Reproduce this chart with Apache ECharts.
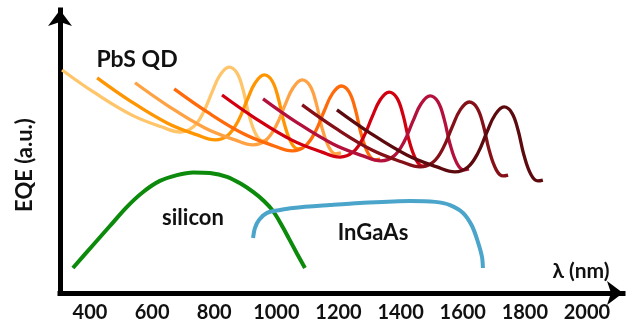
<!DOCTYPE html>
<html>
<head>
<meta charset="utf-8">
<script src="https://cdn.jsdelivr.net/npm/echarts@6/dist/echarts.min.js"></script>
<style>html,body{margin:0;padding:0;background:#fff;}#c{width:633px;height:331px;}</style>
</head>
<body>
<div id="c"></div>
<script>
// Tick labels (nm)
const tickLabels = [400, 600, 800, 1000, 1200, 1400, 1600, 1800, 2000];

// PbS QD curves: wavelength (nm) and EQE (a.u.)
const pbs1X = [310, 416, 535, 632, 690, 732, 764, 793, 819, 848, 873, 893, 912, 935, 957, 973];
const pbs1Y = [76.6, 68.7, 61.1, 57.0, 55.3, 57.0, 61.8, 69.0, 74.9, 77.6, 75.6, 69.7, 61.1, 54.3, 52.2, 52.5];
const pbs2X = [423, 529, 648, 745, 803, 845, 877, 906, 932, 961, 986, 1006, 1025, 1048, 1070, 1086];
const pbs2Y = [73.9, 66.0, 58.4, 54.3, 52.6, 54.3, 59.1, 66.3, 72.2, 74.9, 72.9, 67.0, 58.4, 51.6, 49.5, 49.8];
const pbs3X = [545, 651, 770, 867, 925, 967, 999, 1028, 1054, 1083, 1108, 1128, 1147, 1170, 1192, 1208];
const pbs3Y = [72.2, 64.3, 56.7, 52.6, 50.9, 52.6, 57.4, 64.6, 70.5, 73.2, 71.2, 65.3, 56.7, 49.9, 47.8, 48.1];
const pbs4X = [671, 777, 896, 993, 1051, 1093, 1125, 1154, 1180, 1209, 1234, 1254, 1273, 1296, 1318, 1334];
const pbs4Y = [70.1, 62.2, 54.6, 50.5, 48.8, 50.5, 55.3, 62.5, 68.4, 71.1, 69.1, 63.2, 54.6, 47.8, 45.7, 46.0];
const pbs5X = [825, 931, 1050, 1147, 1205, 1247, 1279, 1308, 1334, 1363, 1388, 1408, 1427, 1450, 1472, 1488];
const pbs5Y = [68.0, 60.1, 52.5, 48.4, 46.7, 48.4, 53.2, 60.4, 66.3, 69.0, 67.0, 61.1, 52.5, 45.7, 43.6, 43.9];
const pbs6X = [957, 1063, 1182, 1279, 1337, 1379, 1411, 1440, 1466, 1495, 1520, 1540, 1559, 1582, 1604, 1620];
const pbs6Y = [66.7, 58.8, 51.2, 47.1, 45.4, 47.1, 51.9, 59.1, 65.0, 67.7, 65.7, 59.8, 51.2, 44.4, 42.3, 42.6];
const pbs7X = [1083, 1189, 1308, 1405, 1463, 1505, 1537, 1566, 1592, 1621, 1646, 1666, 1685, 1708, 1730, 1746];
const pbs7Y = [64.6, 56.7, 49.1, 45.0, 43.3, 45.0, 49.8, 57.0, 62.9, 65.6, 63.6, 57.7, 49.1, 42.3, 40.2, 40.5];
const pbs8X = [1195, 1301, 1420, 1517, 1575, 1617, 1649, 1678, 1704, 1733, 1758, 1778, 1797, 1820, 1842, 1858];
const pbs8Y = [62.9, 55.0, 47.4, 43.3, 41.6, 43.3, 48.1, 55.3, 61.2, 63.9, 61.9, 56.0, 47.4, 40.6, 38.5, 38.8];

// Silicon
const siX = [345, 410, 464, 519, 571, 625, 680, 732, 786, 841, 886, 925, 960, 989, 1015, 1041, 1067, 1092];
const siY = [8.6, 16.5, 23.0, 29.6, 34.7, 38.5, 40.5, 41.4, 41.2, 39.9, 37.5, 34.7, 31.6, 28.2, 23.7, 18.6, 13.4, 8.6];
// InGaAs
const ingaasX = [925, 931, 944, 970, 1012, 1054, 1173, 1269, 1430, 1511, 1559, 1601, 1630, 1649, 1662, 1665];
const ingaasY = [18.9, 22.3, 25.1, 27.5, 28.5, 29.2, 30.2, 30.9, 31.6, 31.3, 30.2, 27.5, 23.0, 17.5, 12.4, 8.6];

const pbsColors = ['#FFC56A', '#FF9500', '#FFA244', '#FF6A0A', '#D2000F', '#B3103C', '#861018', '#5C0A0E'];
const pbsX = [pbs1X, pbs2X, pbs3X, pbs4X, pbs5X, pbs6X, pbs7X, pbs8X];
const pbsY = [pbs1Y, pbs2Y, pbs3Y, pbs4Y, pbs5Y, pbs6Y, pbs7Y, pbs8Y];

const zip = (xs, ys) => xs.map((x, i) => [x, ys[i]]);
const FONT = 'Lato';

const series = [];
series.push({type: 'line', data: zip(siX, siY), smooth: 0.3, showSymbol: false,
  lineStyle: {color: '#0B8A0B', width: 4}, z: 2});
series.push({type: 'line', data: zip(ingaasX, ingaasY), smooth: 0.3, showSymbol: false,
  lineStyle: {color: '#4BA5CB', width: 4}, z: 2});
pbsX.forEach((xs, i) => {
  series.push({type: 'line', data: zip(xs, pbsY[i]), smooth: 0.4, showSymbol: false,
    lineStyle: {color: pbsColors[i], width: 3.3}, z: 3});
});

const chart = echarts.init(document.getElementById('c'), null, {renderer: 'canvas'});
chart.setOption({
  animation: false,
  backgroundColor: '#fff',
  grid: {left: 60, right: 10, top: 10, bottom: 38},
  xAxis: {
    type: 'value', min: 303.4, max: 2116,
    axisLine: {show: true, symbol: ['none', 'arrow'], symbolSize: [18, 16],
      lineStyle: {color: '#000', width: 5, cap: 'square'}},
    axisTick: {show: false},
    splitLine: {show: false},
    axisLabel: {customValues: tickLabels, formatter: v => String(v), color: '#111', fontFamily: FONT, fontWeight: 'bold',
      fontSize: 20, margin: 10}
  },
  yAxis: {
    type: 'value', min: 0, max: 97.2,
    axisLine: {show: true, symbol: ['none', 'arrow'], symbolSize: [18, 16],
      lineStyle: {color: '#000', width: 5, cap: 'square'}},
    axisTick: {show: false},
    splitLine: {show: false},
    axisLabel: {show: false}
  },
  series: series,
  graphic: [
    {type: 'text', x: 137, y: 60, style: {text: 'PbS QD', font: 'bold 23px ' + FONT, fill: '#111', align: 'center', verticalAlign: 'middle'}},
    {type: 'text', x: 193, y: 218, style: {text: 'silicon', font: 'bold 22px ' + FONT, fill: '#111', align: 'center', verticalAlign: 'middle'}},
    {type: 'text', x: 373, y: 233, style: {text: 'InGaAs', font: 'bold 22px ' + FONT, fill: '#111', align: 'center', verticalAlign: 'middle'}},
    {type: 'text', x: 581, y: 271, style: {text: 'λ (nm)', font: 'bold 21px ' + FONT, fill: '#111', align: 'center', verticalAlign: 'middle'}},
    {type: 'text', x: 25, y: 165, rotation: Math.PI / 2, style: {text: 'EQE (a.u.)', font: 'bold 22px ' + FONT, fill: '#111', align: 'center', verticalAlign: 'middle'}}
  ]
});
</script>
</body>
</html>
